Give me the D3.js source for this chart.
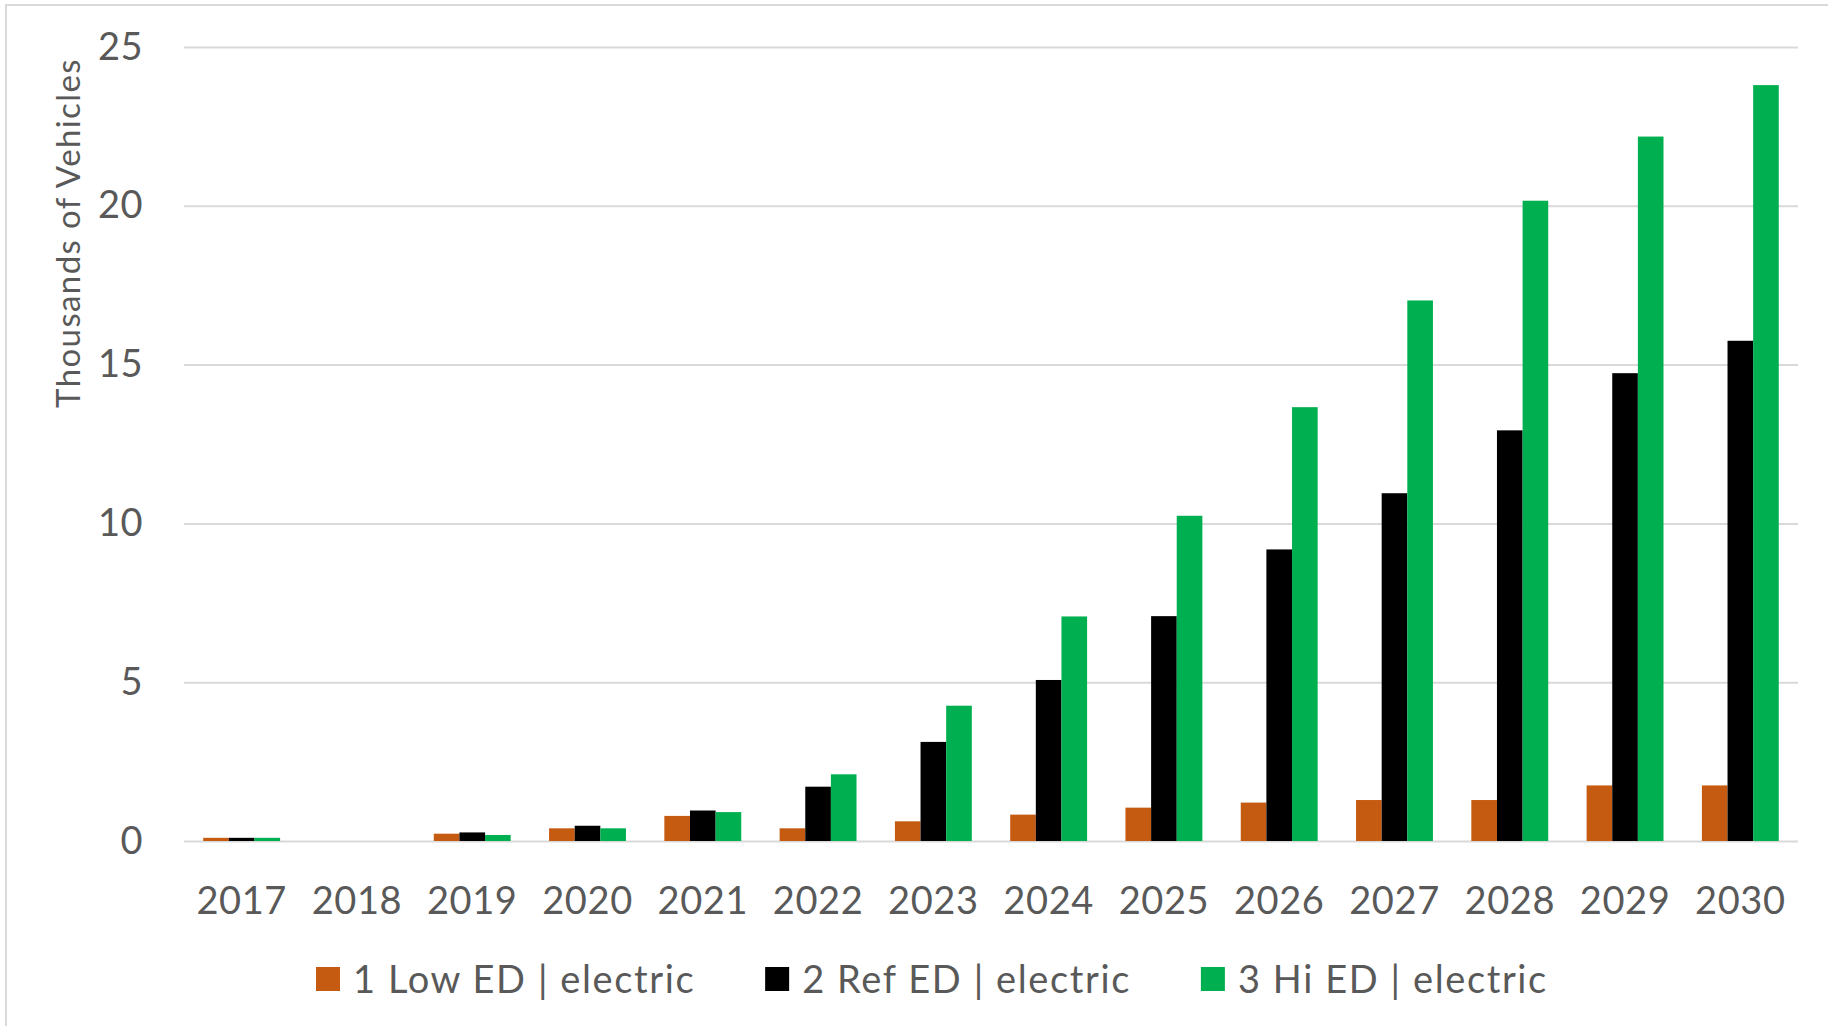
<!DOCTYPE html>
<html>
<head>
<meta charset="utf-8">
<script src="https://cdn.jsdelivr.net/npm/d3@7"></script>
<style>
  html, body { margin: 0; padding: 0; background: #ffffff; }
  svg { display: block; font-family: Lato, "Open Sans", sans-serif; }
</style>
</head>
<body>
<svg id="chart" width="1828" height="1026"></svg>
<script>
// Electric vehicle projections, thousands of vehicles
const years = ["2017","2018","2019","2020","2021","2022","2023","2024","2025","2026","2027","2028","2029","2030"];
const lowED = [0.10, 0, 0.23, 0.40, 0.79, 0.40, 0.62, 0.83, 1.05, 1.21, 1.29, 1.29, 1.75, 1.75];
const refED = [0.10, 0, 0.27, 0.48, 0.96, 1.71, 3.12, 5.07, 7.08, 9.18, 10.95, 12.93, 14.73, 15.75];
const hiED  = [0.10, 0, 0.19, 0.40, 0.91, 2.10, 4.26, 7.07, 10.24, 13.66, 17.02, 20.16, 22.18, 23.80];
const seriesNames = ["1 Low ED | electric", "2 Ref ED | electric", "3 Hi ED | electric"];
const seriesValues = [lowED, refED, hiED];
const seriesColors = ["#C55A11", "#000000", "#00B050"];
const yTicks = [0, 5, 10, 15, 20, 25];
const yTitle = "Thousands of Vehicles";

const svg = d3.select("#chart");
const textColor = "#595959";
const gridColor = "#D9D9D9";

// chart frame
svg.append("rect")
  .attr("x", 6).attr("y", 5)
  .attr("width", 1840).attr("height", 1040)
  .attr("fill", "none").attr("stroke", gridColor).attr("stroke-width", 2);

const plot = { left: 184, right: 1798, top: 47, bottom: 841 };

const x = d3.scaleBand()
  .domain(years)
  .range([plot.left, plot.right])
  .paddingInner(0.333)
  .paddingOuter(0.1667);

const xSeries = d3.scaleBand()
  .domain(d3.range(seriesNames.length))
  .range([0, x.bandwidth()]);

const y = d3.scaleLinear().domain([0, 25]).range([plot.bottom, plot.top]);

// y axis with gridlines
const yAxis = svg.append("g")
  .attr("transform", `translate(${plot.left},0)`)
  .call(d3.axisLeft(y).tickValues(yTicks).tickSize(-(plot.right - plot.left)).tickPadding(41));
yAxis.select(".domain").remove();
yAxis.selectAll(".tick line").attr("stroke", gridColor).attr("stroke-width", 2);
yAxis.selectAll(".tick text")
  .attr("fill", textColor)
  .style("font-size", "38px")
  .style("letter-spacing", "0.5px")
  .style("font-family", "Lato, 'Open Sans', sans-serif");

// bars
const groups = svg.append("g").selectAll("g")
  .data(seriesValues)
  .join("g")
  .attr("fill", (d, i) => seriesColors[i]);

groups.each(function (vals, si) {
  d3.select(this).selectAll("rect")
    .data(vals.map((v, i) => ({ year: years[i], value: v })))
    .join("rect")
    .attr("x", d => x(d.year) + xSeries(si))
    .attr("width", xSeries.bandwidth())
    .attr("y", d => y(d.value))
    .attr("height", d => y(0) - y(d.value));
});

// x axis labels
const xAxis = svg.append("g")
  .attr("transform", `translate(0,${plot.bottom})`)
  .call(d3.axisBottom(x).tickSize(0).tickPadding(46));
xAxis.select(".domain").remove();
xAxis.selectAll(".tick text")
  .attr("fill", textColor)
  .style("font-size", "38px")
  .style("letter-spacing", "0.6px")
  .style("font-family", "Lato, 'Open Sans', sans-serif");

// y axis title
svg.append("text")
  .attr("transform", "translate(80,233) rotate(-90)")
  .attr("text-anchor", "middle")
  .attr("fill", textColor)
  .style("font-size", "33px")
  .style("letter-spacing", "1.4px")
  .text(yTitle);

// legend
const legend = svg.append("g");
let lx = 316;
seriesNames.forEach((name, i) => {
  const item = legend.append("g").attr("transform", `translate(${lx},0)`);
  item.append("rect")
    .attr("x", 0).attr("y", 967)
    .attr("width", 24).attr("height", 24)
    .attr("fill", seriesColors[i]);
  const t = item.append("text")
    .attr("x", 37).attr("y", 993)
    .attr("fill", textColor)
    .style("font-size", "38px")
    .style("letter-spacing", "1.6px")
    .text(name);
  lx += 37 + t.node().getComputedTextLength() + 70;
});
</script>
</body>
</html>
